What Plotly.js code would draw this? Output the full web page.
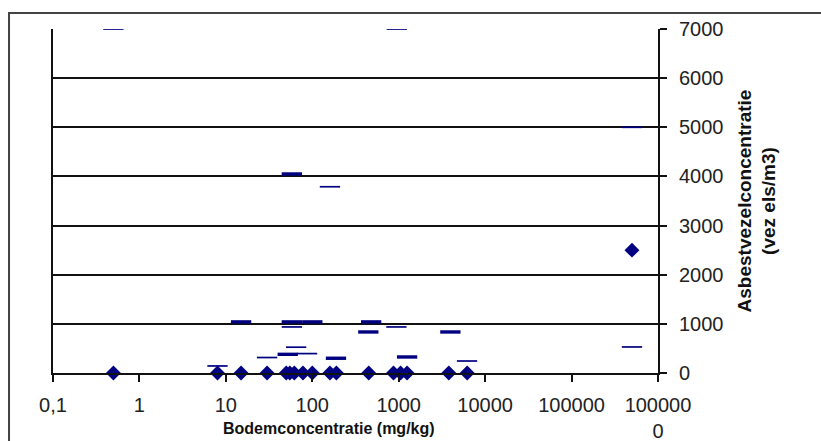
<!DOCTYPE html>
<html>
<head>
<meta charset="utf-8">
<script src="https://cdn.plot.ly/plotly-3.0.1.min.js"></script>
<style>html,body{margin:0;padding:0;background:#fff;}#chart{width:821px;height:441px;}</style>
</head>
<body>
<div id="chart"></div>
<script>
// Diamonds (soil concentration vs fibre concentration)
const diamondX = [0.5, 8, 15, 30, 50, 55, 62, 78, 100, 160, 190, 450, 870, 1050, 1250, 3800, 6200, 500000];
const diamondY = [0, 0, 0, 0, 0, 0, 0, 0, 0, 0, 0, 0, 0, 0, 0, 0, 0, 2500];
// Thick dashes
const thickX = [58, 15, 58, 100, 480, 445, 3960, 52, 188, 1250];
const thickY = [4050, 1040, 1040, 1040, 1040, 835, 835, 380, 300, 326];
// Thin dashes
const thinX = [0.5, 950, 500000, 160, 58, 940, 65, 87, 30, 8, 6170, 500000];
const thinY = [7000, 7000, 5000, 3790, 937, 937, 525, 395, 315, 143, 244, 530];
// Axis ticks
const xTickVals = [0.1, 1, 10, 100, 1000, 10000, 100000, 1000000];
const xTickText = ['0,1', '1', '10', '100', '1000', '10000', '100000', '100000<br>0'];
const yTickVals = [0, 1000, 2000, 3000, 4000, 5000, 6000, 7000];
const xTitle = 'Bodemconcentratie (mg/kg)';
const yTitle = 'Asbestvezelconcentratie<br>(vez els/m3)';

const navy = '#000080';
const data = [
  {x: thinX, y: thinY, type: 'scatter', mode: 'markers', hoverinfo: 'skip',
   marker: {symbol: 'line-ew', size: 14.5, line: {color: navy, width: 1.7}}},
  {x: thickX, y: thickY, type: 'scatter', mode: 'markers', hoverinfo: 'skip',
   marker: {symbol: 'line-ew', size: 14.5, line: {color: navy, width: 3.4}}},
  {x: diamondX, y: diamondY, type: 'scatter', mode: 'markers', hoverinfo: 'skip',
   cliponaxis: false,
   marker: {symbol: 'diamond', size: 11.5, color: navy, line: {width: 0}}}
];

const f = 'Liberation Sans, Arial, sans-serif';
const layout = {
  width: 821, height: 441,
  margin: {l: 53, r: 163, t: 29, b: 68, pad: 0},
  paper_bgcolor: '#fff', plot_bgcolor: '#fff',
  showlegend: false,
  font: {family: f, color: '#222', size: 20},
  xaxis: {
    type: 'log', range: [-1, 6],
    tickmode: 'array', tickvals: xTickVals, ticktext: xTickText,
    ticks: 'outside', ticklen: 7, tickwidth: 2, tickcolor: '#111',
    ticklabelstandoff: 6,
    showgrid: false, zeroline: false,
    showline: true, linecolor: '#111', linewidth: 2,
    tickfont: {family: f, size: 20, color: '#222'}
  },
  yaxis: {
    side: 'right', range: [0, 7000],
    tickmode: 'array', tickvals: yTickVals,
    ticks: 'outside', ticklen: 7, tickwidth: 2, tickcolor: '#111',
    ticklabelstandoff: 8,
    showgrid: true, gridcolor: '#111', gridwidth: 2,
    zeroline: false,
    showline: true, mirror: true, linecolor: '#111', linewidth: 2,
    tickfont: {family: f, size: 20, color: '#222'},
    title: {text: '<b>' + yTitle + '</b>', font: {family: f, size: 19, color: '#111'}, standoff: 15}
  },
  annotations: [
    {text: '<b>' + xTitle + '</b>', xref: 'paper', yref: 'paper', x: (329 - 53) / 605, y: (373 - 428) / 344,
     xanchor: 'center', yanchor: 'middle', showarrow: false,
     font: {family: f, size: 16, color: '#111'}}
  ],
  shapes: [
    {type: 'line', xref: 'paper', yref: 'paper', x0: -0.0744, x1: 1.27, y0: 1.0465, y1: 1.0465,
     line: {color: '#444', width: 2}},
    {type: 'line', xref: 'paper', yref: 'paper', x0: -0.0727, x1: -0.0727, y0: 1.0465, y1: -0.2,
     line: {color: '#444', width: 2}}
  ]
};

Plotly.newPlot('chart', data, layout, {displayModeBar: false, staticPlot: true});
</script>
</body>
</html>
